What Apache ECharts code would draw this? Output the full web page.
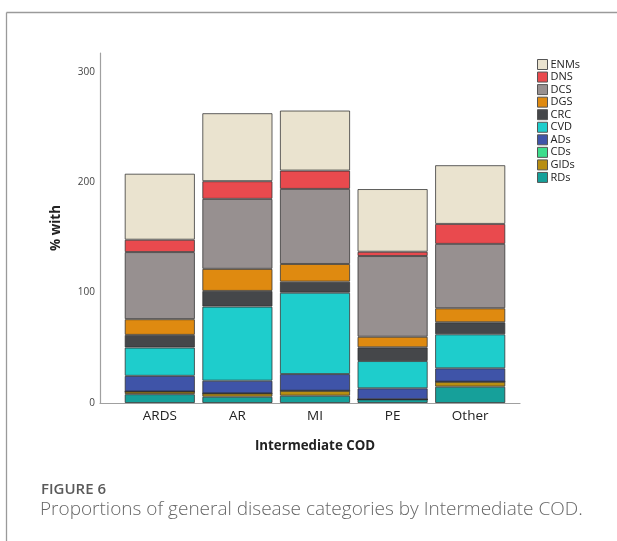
<!DOCTYPE html>
<html>
<head>
<meta charset="utf-8">
<script src="https://cdn.jsdelivr.net/npm/echarts@6/dist/echarts.min.js"></script>
<style>
html,body{margin:0;padding:0;background:#fff;}
#chart{width:617px;height:541px;}
</style>
</head>
<body>
<div id="chart"></div>
<script>
// Categories (Intermediate COD)
var categories = ['ARDS', 'AR', 'MI', 'PE', 'Other'];
// Series values (% with), stacked from bottom
var RDs  = [8.0, 5.7, 6.6, 3.3, 14.8];
var GIDs = [2.4, 3.0, 4.5, 0.0, 4.5];
var CDs  = [0.0, 0.0, 0.0, 0.0, 0.0];
var ADs  = [14.2, 11.5, 15.1, 10.0, 12.1];
var CVD  = [25.6, 67.1, 73.7, 24.7, 30.8];
var CRC  = [11.5, 14.2, 10.0, 12.4, 10.9];
var DGS  = [14.2, 20.0, 16.0, 9.6, 12.7];
var DCS  = [60.8, 63.4, 68.0, 73.1, 58.3];
var DNS  = [11.2, 16.0, 16.6, 3.9, 18.1];
var ENMs = [59.8, 61.6, 54.4, 56.8, 53.2];
// Legend order (top to bottom)
var legendOrder = ['ENMs', 'DNS', 'DCS', 'DGS', 'CRC', 'CVD', 'ADs', 'CDs', 'GIDs', 'RDs'];
// Y tick labels
var yTicks = [0, 100, 200, 300];

var seriesDefs = [
  {name: 'RDs',  data: RDs,  color: '#16A09A'},
  {name: 'GIDs', data: GIDs, color: '#B88E12'},
  {name: 'CDs',  data: CDs,  color: '#3DDD8C'},
  {name: 'ADs',  data: ADs,  color: '#3F54A8'},
  {name: 'CVD',  data: CVD,  color: '#1ECDCC'},
  {name: 'CRC',  data: CRC,  color: '#45474A'},
  {name: 'DGS',  data: DGS,  color: '#DF8A10'},
  {name: 'DCS',  data: DCS,  color: '#979090'},
  {name: 'DNS',  data: DNS,  color: '#E94A4E'},
  {name: 'ENMs', data: ENMs, color: '#EAE3CF'}
];

var chart = echarts.init(document.getElementById('chart'), null, {renderer: 'canvas'});
var FONT = 'Open Sans';

var option = {
  animation: false,
  backgroundColor: '#fff',
  textStyle: {fontFamily: FONT},
  legend: {
    orient: 'vertical',
    left: 532,
    top: 54,
    itemWidth: 10,
    itemHeight: 10,
    itemGap: 1.55,
    icon: 'rect',
    data: legendOrder,
    itemStyle: {borderColor: '#555', borderWidth: 1},
    textStyle: {fontSize: 11, lineHeight: 10, color: '#222', fontFamily: FONT, padding: [0, 0, 0, -2]}
  },
  grid: [
    {left: 121, width: 388, top: 53, bottom: 138},
    {left: 100, width: 420, top: 53, bottom: 138}
  ],
  xAxis: [
    {
      type: 'category',
      gridIndex: 0,
      data: categories,
      axisLine: {show: false},
      axisTick: {show: false},
      axisLabel: {fontSize: 13.5, color: '#222', margin: 6, fontFamily: FONT},
      name: 'Intermediate COD',
      nameLocation: 'middle',
      nameGap: 37,
      nameTextStyle: {fontSize: 13.3, fontWeight: 'bold', color: '#222', fontFamily: FONT}
    },
    {
      type: 'value',
      gridIndex: 1,
      min: 0, max: 1,
      axisLine: {show: true, lineStyle: {color: '#a0a0a0', width: 1.2}},
      axisTick: {show: false},
      axisLabel: {show: false},
      splitLine: {show: false}
    }
  ],
  yAxis: [
    {
      type: 'value',
      gridIndex: 0,
      min: yTicks[0],
      max: 317,
      interval: 100,
      offset: 21,
      axisLine: {show: true, lineStyle: {color: '#a0a0a0', width: 1.2}},
      axisTick: {show: false},
      splitLine: {show: false},
      axisLabel: {
        fontSize: 10, color: '#444', margin: 5, fontFamily: FONT, showMaxLabel: false,
        formatter: function (v) { return yTicks.indexOf(v) >= 0 ? String(v) : ''; }
      },
      name: '% with',
      nameLocation: 'middle',
      nameGap: 37,
      nameTextStyle: {fontSize: 13.5, fontWeight: 'bold', color: '#222', fontFamily: FONT}
    },
    {
      type: 'value',
      gridIndex: 1,
      show: false,
      min: 0, max: 1
    }
  ],
  series: seriesDefs.map(function (s) {
    return {
      name: s.name,
      type: 'bar',
      stack: 'total',
      xAxisIndex: 0,
      yAxisIndex: 0,
      barCategoryGap: '9.5%',
      data: s.data,
      itemStyle: {color: s.color, borderColor: 'rgba(45,45,45,0.75)', borderWidth: 1},
      emphasis: {disabled: true}
    };
  }),
  graphic: [
    {type: 'line', shape: {x1: 6.5, y1: 12.5, x2: 617, y2: 12.5}, style: {stroke: '#9a9a9a', lineWidth: 1.3}},
    {type: 'line', shape: {x1: 6.5, y1: 12.5, x2: 6.5, y2: 541}, style: {stroke: '#9a9a9a', lineWidth: 1.3}},
    {type: 'text', left: 41, top: 482, style: {text: 'FIGURE 6', font: '600 15px "Open Sans"', fill: '#5a5a5a'}},
    {type: 'text', left: 40, top: 500, style: {text: 'Proportions of general disease categories by Intermediate COD.', font: '300 19px "Open Sans"', fill: '#666'}}
  ]
};
chart.setOption(option);
</script>
</body>
</html>
